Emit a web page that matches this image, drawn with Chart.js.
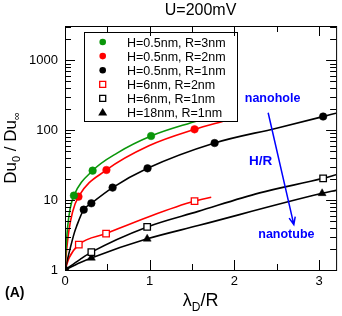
<!DOCTYPE html>
<html>
<head>
<meta charset="utf-8">
<script src="https://cdn.jsdelivr.net/npm/chart.js@4.4.0/dist/chart.umd.min.js"></script>
<style>
  html, body { margin: 0; padding: 0; background: #fff; }
  #wrap { width: 342px; height: 316px; }
</style>
</head>
<body>
<div id="wrap"><canvas id="chart"></canvas></div>
<script>
// values: x = lambda_D / R, y = Du0 / Du_inf (log axis)
const seriesNames = ['H=0.5nm, R=3nm', 'H=0.5nm, R=2nm', 'H=0.5nm, R=1nm', 'H=6nm, R=2nm', 'H=6nm, R=1nm', 'H=18nm, R=1nm'];
const seriesColors = ['#0a960a', '#ff0000', '#000000', '#ff0000', '#000000', '#000000'];
const seriesStyles = ['circle', 'circle', 'circle', 'rect', 'rect', 'triangle'];

// measured points
const ptX1 = [0.105, 0.326, 1.016];
const ptY1 = [11.6, 26.4, 82.6];
const ptX2 = [0.159, 0.489, 1.529];
const ptY2 = [11.2, 27.0, 103];
const ptX3 = [0, 0.221, 0.311, 0.562, 0.974, 1.766, 3.047];
const ptY3 = [1, 7.3, 9.0, 15.1, 28.5, 65.6, 157];
const ptX4 = [0.163, 0.485, 1.529];
const ptY4 = [2.31, 3.32, 9.7];
const ptX5 = [0.311, 0.97, 3.047];
const ptY5 = [1.80, 4.14, 20.5];
const ptX6 = [0.311, 0.97, 3.035];
const ptY6 = [1.49, 2.79, 12.5];

// fitted curves
const fitX1 = [0, 0.01, 0.03, 0.06, 0.105, 0.326, 0.62, 1.016, 1.572];
const fitY1 = [1, 1.8, 4.0, 7.5, 11.6, 26.4, 47.5, 82.6, 138];
const fitX2 = [0, 0.015, 0.045, 0.09, 0.159, 0.489, 0.99, 1.529, 1.89];
const fitY2 = [1, 1.7, 3.6, 6.8, 11.2, 27.0, 60, 103, 137];
const fitX3 = [0, 0.05, 0.11, 0.136, 0.221, 0.311, 0.562, 0.974, 1.766, 2.497, 3.047, 3.2];
const fitY3 = [1, 1.8, 3.4, 4.2, 7.3, 9.0, 15.1, 28.5, 65.6, 107, 157, 175];
const fitX4 = [0, 0.05, 0.163, 0.485, 0.99, 1.529, 1.726];
const fitY4 = [1, 1.5, 2.31, 3.32, 5.8, 9.7, 11.0];
const fitX5 = [0, 0.175, 0.311, 0.97, 1.572, 2.298, 3.047, 3.2];
const fitY5 = [1, 1.41, 1.80, 4.14, 6.9, 12.7, 20.5, 23.1];
const fitX6 = [0, 0.175, 0.311, 0.97, 1.572, 3.035, 3.2];
const fitY6 = [1, 1.27, 1.49, 2.79, 4.32, 12.5, 13.8];

const xTickValues = [0, 1, 2, 3];
const xMinorValues = [0.5, 1.5, 2.5];
const yTickValues = [1, 10, 100, 1000];

const ptXs = [ptX1, ptX2, ptX3, ptX4, ptX5, ptX6];
const ptYs = [ptY1, ptY2, ptY3, ptY4, ptY5, ptY6];
const fitXs = [fitX1, fitX2, fitX3, fitX4, fitX5, fitX6];
const fitYs = [fitY1, fitY2, fitY3, fitY4, fitY5, fitY6];

const FONT = "'Liberation Sans', Arial, Helvetica, sans-serif";

function pairs(xs, ys) {
    return xs.map((x, i) => ({ x: x, y: ys[i] }));
}

const datasets = [];
seriesNames.forEach((name, i) => {
    datasets.push({
        label: name + ' fit',
        data: pairs(fitXs[i], fitYs[i]),
        showLine: true,
        borderColor: seriesColors[i],
        borderWidth: 1.6,
        pointRadius: 0,
        cubicInterpolationMode: 'monotone',
        order: 2
    });
    const hollow = seriesStyles[i] === 'rect';
    datasets.push({
        label: name,
        data: pairs(ptXs[i], ptYs[i]),
        showLine: false,
        pointStyle: seriesStyles[i],
        pointRadius: hollow ? 4.6 : (seriesStyles[i] === 'triangle' ? 4.6 : 3.8),
        pointBackgroundColor: hollow ? '#ffffff' : seriesColors[i],
        pointBorderColor: seriesColors[i],
        pointBorderWidth: hollow ? 1.3 : 0.5,
        order: 1
    });
});

// x/y of the text notes, in data units
const noteNanohole = { x: 2.45, y: 282 };
const noteHR = { x: 2.308, y: 36 };
const noteNanotube = { x: 2.613, y: 3.21 };
const arrowFrom = { x: 2.398, y: 178 };
const arrowTo = { x: 2.701, y: 4.47 };

function marker(ctx, style, x, y, color) {
    ctx.save();
    ctx.fillStyle = color;
    ctx.strokeStyle = color;
    ctx.beginPath();
    if (style === 'circle') {
        ctx.arc(x, y, 3.3, 0, Math.PI * 2);
        ctx.fill();
    } else if (style === 'rect') {
        ctx.lineWidth = 1.3;
        ctx.fillStyle = '#fff';
        ctx.rect(x - 3, y - 3, 6, 6);
        ctx.fill();
        ctx.stroke();
    } else {
        ctx.moveTo(x, y - 4.5);
        ctx.lineTo(x + 4.5, y + 3);
        ctx.lineTo(x - 4.5, y + 3);
        ctx.closePath();
        ctx.fill();
    }
    ctx.restore();
}

function subText(ctx, parts, x, y, align) {
    // parts: [text, size, dy]
    let total = 0;
    parts.forEach(p => { ctx.font = p[1] + 'px ' + FONT; total += ctx.measureText(p[0]).width; });
    let cx = align === 'center' ? x - total / 2 : x;
    ctx.textAlign = 'left';
    ctx.textBaseline = 'alphabetic';
    parts.forEach(p => {
        ctx.font = p[1] + 'px ' + FONT;
        ctx.fillText(p[0], cx, y + p[2]);
        cx += ctx.measureText(p[0]).width;
    });
}

const decor = {
    id: 'decor',
    afterDatasetsDraw(chart) {
        const ctx = chart.ctx;
        const a = chart.chartArea;
        // legend box
        const lx = a.left + 19, ly = a.top + 6, lw = 153, lh = 89;
        ctx.save();
        ctx.fillStyle = '#fff';
        ctx.fillRect(lx, ly, lw, lh);
        ctx.strokeStyle = '#000';
        ctx.lineWidth = 1;
        ctx.strokeRect(lx + 0.5, ly + 0.5, lw, lh);
        ctx.font = '12.5px ' + FONT;
        ctx.fillStyle = '#000';
        ctx.textBaseline = 'alphabetic';
        seriesNames.forEach((name, i) => {
            const yy = ly + 10 + i * 14.1;
            marker(ctx, seriesStyles[i], lx + 18.7, yy, seriesColors[i]);
            ctx.fillStyle = '#000';
            ctx.fillText(name, lx + 43, yy + 4.5);
        });
        ctx.restore();
    },
    afterDraw(chart) {
        const ctx = chart.ctx;
        const a = chart.chartArea;
        const xs = chart.scales.x, ys = chart.scales.y;
        ctx.save();
        ctx.strokeStyle = '#000';
        ctx.lineWidth = 1;
        ctx.strokeRect(a.left + 0.5, a.top + 0.5, a.right - a.left, a.bottom - a.top);
        ctx.beginPath();
        // x ticks, bottom and top, pointing in
        xTickValues.concat(xMinorValues).forEach(v => {
            const len = xTickValues.includes(v) ? 10 : 6;
            const px = Math.round(xs.getPixelForValue(v)) + 0.5;
            ctx.moveTo(px, a.bottom); ctx.lineTo(px, a.bottom - len);
            ctx.moveTo(px, a.top); ctx.lineTo(px, a.top + len);
        });
        // y ticks, left and right
        for (let dec = 1; dec <= 1000; dec *= 10) {
            for (let m = 1; m <= 9; m++) {
                const v = dec * m;
                if (v > ys.max) break;
                const len = m === 1 ? 10 : 6;
                const py = Math.round(ys.getPixelForValue(v)) + 0.5;
                ctx.moveTo(a.left, py); ctx.lineTo(a.left + len, py);
                ctx.moveTo(a.right, py); ctx.lineTo(a.right - len, py);
            }
        }
        ctx.stroke();

        // title
        ctx.fillStyle = '#000';
        ctx.font = '16px ' + FONT;
        ctx.textAlign = 'center';
        ctx.textBaseline = 'alphabetic';
        ctx.fillText('U=200mV', (a.left + a.right) / 2, 14.5);

        // x axis title
        subText(ctx, [['λ', 18, 0], ['D', 12, 5], ['/R', 18, 0]], (a.left + a.right) / 2, 306, 'center');

        // y axis title
        ctx.save();
        ctx.translate(16, (a.top + a.bottom) / 2);
        ctx.rotate(-Math.PI / 2);
        subText(ctx, [['Du', 17, 0], ['0', 11, 4], [' / Du', 17, 0], ['∞', 11, 4]], 0, 0, 'center');
        ctx.restore();

        // panel tag
        ctx.font = 'bold 14px ' + FONT;
        ctx.textAlign = 'left';
        ctx.fillText('(A)', 5, 297);

        // blue notes and arrow
        ctx.fillStyle = '#0000ff';
        ctx.strokeStyle = '#0000ff';
        ctx.textAlign = 'center';
        ctx.textBaseline = 'middle';
        ctx.font = 'bold 12.5px ' + FONT;
        ctx.fillText('nanohole', xs.getPixelForValue(noteNanohole.x), ys.getPixelForValue(noteNanohole.y));
        ctx.font = 'bold 13.5px ' + FONT;
        ctx.fillText('H/R', xs.getPixelForValue(noteHR.x), ys.getPixelForValue(noteHR.y));
        ctx.font = 'bold 12.5px ' + FONT;
        ctx.fillText('nanotube', xs.getPixelForValue(noteNanotube.x), ys.getPixelForValue(noteNanotube.y));

        const x0 = xs.getPixelForValue(arrowFrom.x), y0 = ys.getPixelForValue(arrowFrom.y);
        const x1 = xs.getPixelForValue(arrowTo.x), y1 = ys.getPixelForValue(arrowTo.y);
        const ang = Math.atan2(y1 - y0, x1 - x0);
        ctx.lineWidth = 1.5;
        ctx.beginPath();
        ctx.moveTo(x0, y0);
        ctx.lineTo(x1, y1);
        ctx.moveTo(x1 - 8 * Math.cos(ang - 0.4), y1 - 8 * Math.sin(ang - 0.4));
        ctx.lineTo(x1, y1);
        ctx.lineTo(x1 - 8 * Math.cos(ang + 0.4), y1 - 8 * Math.sin(ang + 0.4));
        ctx.stroke();
        ctx.restore();
    }
};

new Chart(document.getElementById('chart'), {
    type: 'scatter',
    data: { datasets: datasets },
    options: {
        responsive: true,
        maintainAspectRatio: false,
        animation: false,
        layout: { padding: { top: 26, right: 2, left: 0, bottom: 0 } },
        scales: {
            x: {
                type: 'linear',
                min: 0,
                max: 3.2,
                afterFit: s => { s.height = 46; },
                afterBuildTicks: s => { s.ticks = xTickValues.map(v => ({ value: v })); },
                grid: { display: false, drawTicks: false },
                border: { display: false },
                ticks: { color: '#000', padding: 4, font: { family: FONT, size: 13 }, maxRotation: 0 }
            },
            y: {
                type: 'logarithmic',
                min: 1,
                max: 3100,
                afterFit: s => { s.width = 65; },
                afterBuildTicks: s => { s.ticks = yTickValues.map(v => ({ value: v })); },
                grid: { display: false, drawTicks: false },
                border: { display: false },
                ticks: { color: '#000', padding: 7, font: { family: FONT, size: 13 }, callback: v => String(v) }
            }
        },
        plugins: {
            legend: { display: false },
            tooltip: { enabled: false }
        }
    },
    plugins: [decor]
});
</script>
</body>
</html>
